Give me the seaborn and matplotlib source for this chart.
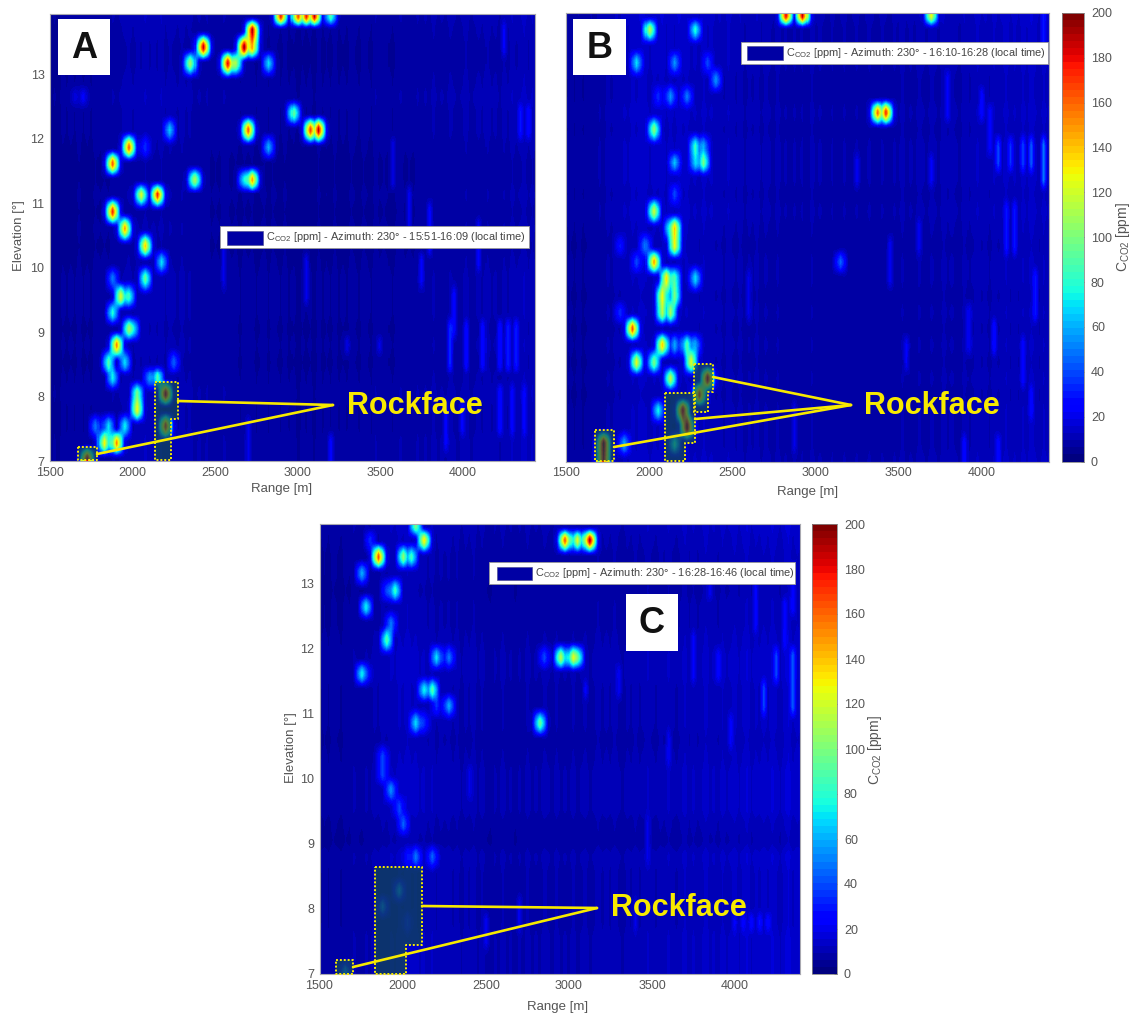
import numpy as np
import seaborn as sns
import matplotlib.pyplot as plt
from matplotlib.patches import Polygon, Rectangle

# ---------------------------------------------------------
# CONFIG
# ---------------------------------------------------------
W, H = 1136, 1019
TEXT_GREY = '#555555'
YELLOW = '#f7ea00'

# elevation scan rows [deg] and range gates [m]
elevation_rows = [7.02, 7.27, 7.53, 7.79, 8.03, 8.28, 8.53, 8.80, 9.05, 9.30,
                  9.55, 9.83, 10.08, 10.33, 10.60, 10.86, 11.13, 11.37, 11.62,
                  11.87, 12.14, 12.40, 12.65, 12.90, 13.17, 13.42, 13.68, 13.90]
range_gates = list(range(1500, 4500, 25))

# ---------------------------------------------------------
# DATA (range m, elevation deg, ppm)
# ---------------------------------------------------------
a_columns = [5, 6, 5, 7, 6, 7, 6, 8, 6, 7, 6, 8, 7, 8, 7, 9, 8, 9, 10, 11,
             9, 11, 10, 12, 10, 11, 10, 12, 9, 11, 10, 9, 11, 9, 10, 8, 9, 8, 9, 7,
             8, 7, 9, 8, 7, 8, 6, 8, 7, 8, 6, 7, 8, 6, 8, 7, 6, 8, 6, 7,
             5, 7, 6, 7, 5, 8, 6, 7, 6, 8, 6, 7, 6, 8, 7, 6, 8, 7, 6, 9,
             7, 8, 7, 6, 8, 9, 7, 8, 7, 9, 8, 9, 8, 10, 8, 9, 8, 10, 9, 8,
             9, 11, 8, 9, 10, 9, 11, 9, 10, 8, 11, 9, 12, 10, 11, 13, 10, 12, 9, 11]
a_rows = [1.1, 1.1, 1.0, 1.0, 1.1, 1.0, 0.9, 1.0, 0.9, 1.0, 1.0, 1.0, 0.9, 0.8,
          0.9, 0.8, 0.9, 0.8, 0.8, 0.9, 1.0, 1.0, 1.1, 1.0, 0.9, 0.9, 1.0, 1.1]
a_spot_range = [2423, 2362, 2581, 2665, 2636, 2719, 2719, 2816, 2890, 3004, 3040, 3100, 3198,
                2975, 2702, 3066, 3119, 2824, 2217, 1981, 1884, 2066, 2375, 2664, 2727,
                2042, 2140, 1866, 1944, 2078, 2072, 2169, 1884, 1933, 1975,
                1969, 2005, 1884, 1896, 1842, 1951, 1866, 2138, 2096, 2247, 2017, 2017,
                1842, 1946, 1830, 1908, 1780, 1727, 2205, 2205, 1700, 1650]
a_spot_elev = [13.42, 13.17, 13.17, 13.42, 13.17, 13.68, 13.42, 13.17, 13.90, 13.90, 13.90, 13.90, 13.90,
               12.40, 12.14, 12.14, 12.14, 11.87, 12.14, 11.87, 11.62, 11.87, 11.37, 11.37, 11.37,
               11.13, 11.13, 10.86, 10.60, 10.33, 9.83, 10.08, 9.83, 9.55, 9.55,
               9.05, 9.05, 9.30, 8.80, 8.53, 8.53, 8.28, 8.28, 8.28, 8.53, 7.79, 8.03,
               7.53, 7.53, 7.27, 7.27, 7.53, 7.02, 8.03, 7.53, 12.65, 12.65]
a_spot_ppm = [190, 110, 185, 200, 110, 195, 150, 70, 180, 170, 180, 190, 90,
              95, 165, 170, 190, 60, 65, 165, 165, 35, 110, 75, 150,
              125, 175, 175, 150, 140, 95, 70, 50, 125, 85,
              110, 80, 80, 155, 90, 70, 75, 90, 55, 45, 130, 100,
              70, 75, 130, 155, 50, 190, 190, 170, 24, 18]
a_streak_range = [3925, 4025, 4125, 4225, 4275, 4325, 4350, 4400, 4375, 4300, 4225, 3800, 3750, 4100,
                  4000, 3300, 3500, 3675, 3200, 3050, 3950, 4250, 3900, 3575, 2550, 2700]
a_streak_low = [8.5, 8.5, 8.5, 8.5, 8.5, 8.5, 11.9, 11.9, 7.4, 7.4, 7.4, 10.2, 9.8, 10.0,
                7.4, 8.6, 8.6, 10.6, 7.0, 9.5, 8.9, 13.2, 7.2, 11.3, 9.6, 7.0]
a_streak_high = [9.1, 9.1, 9.1, 9.1, 9.1, 9.1, 12.4, 12.4, 8.1, 8.1, 8.1, 10.9, 10.3, 10.6,
                 8.0, 9.0, 9.0, 11.2, 7.5, 10.1, 9.6, 13.8, 7.8, 11.9, 10.4, 7.7]
a_streak_ppm = [35, 28, 28, 30, 33, 32, 30, 28, 26, 26, 30, 26, 24, 24,
                26, 20, 20, 22, 26, 20, 26, 24, 24, 20, 20, 20]

b_columns = [6, 7, 6, 8, 6, 7, 8, 7, 9, 8, 10, 9, 11, 10, 12, 11, 13, 12, 14, 13,
             11, 13, 12, 14, 11, 13, 11, 14, 12, 13, 11, 12, 10, 13, 11, 12, 10, 11, 9, 12,
             10, 9, 11, 8, 10, 9, 11, 8, 10, 9, 8, 10, 8, 9, 7, 9, 8, 9, 7, 10,
             8, 9, 8, 7, 9, 7, 8, 9, 7, 8, 9, 7, 8, 9, 8, 7, 9, 8, 7, 9,
             8, 10, 8, 9, 8, 10, 9, 8, 10, 9, 8, 11, 9, 10, 9, 8, 11, 9, 10, 12,
             10, 11, 9, 12, 10, 11, 13, 10, 12, 10, 13, 11, 14, 12, 10, 13, 11, 15, 12, 10]
b_rows = [1.1, 1.0, 1.0, 1.0, 0.9, 1.0, 0.9, 1.0, 0.9, 1.0, 0.9, 1.0, 1.0, 0.9,
          1.0, 1.1, 1.0, 1.1, 1.1, 1.1, 1.0, 1.1, 1.0, 1.0, 1.1, 1.1, 1.1, 1.2]
b_spot_range = [1994, 2277, 2837, 2916, 3700, 1928, 2150, 2355, 2388, 2052, 2132, 2217,
                2030, 2265, 2325, 2325, 2265, 2145, 2150, 2024, 2145, 2115, 2145, 2024, 1964, 1825,
                1934, 2108, 2157, 2084, 2066, 2277, 3138, 1837, 1898, 2072, 2150, 2235, 2277,
                2247, 1934, 2036, 2115, 2048, 1850, 1723, 1723, 2199, 2229, 2145, 2343, 2307,
                3370, 3420, 2125, 2150]
b_spot_elev = [13.68, 13.68, 13.90, 13.90, 13.90, 13.17, 13.17, 13.17, 12.90, 12.65, 12.65, 12.65,
               12.14, 11.87, 11.62, 11.87, 11.62, 11.62, 11.13, 10.86, 10.60, 10.60, 10.33, 10.08, 10.33, 10.33,
               10.08, 9.83, 9.55, 9.55, 9.30, 9.83, 10.08, 9.30, 9.05, 8.80, 8.80, 8.80, 8.80,
               8.53, 8.53, 8.53, 8.28, 7.79, 7.27, 7.27, 7.02, 7.79, 7.53, 7.27, 8.28, 8.03,
               12.40, 12.40, 9.30, 9.83]
b_spot_ppm = [115, 80, 185, 190, 130, 70, 55, 40, 55, 35, 55, 50,
              105, 85, 100, 60, 70, 65, 40, 120, 140, 90, 130, 150, 50, 30,
              40, 135, 100, 130, 115, 70, 45, 35, 165, 140, 60, 90, 60,
              125, 125, 100, 115, 75, 60, 200, 190, 190, 200, 80, 190, 170,
              160, 175, 110, 90]
b_streak_range = [4100, 4175, 4250, 4300, 4375, 4200, 4150, 4325, 4075, 4250, 3900, 3700,
                  4000, 3250, 3450, 4100, 4300, 3550, 3800, 3625, 4375, 3925, 4050, 2600, 2875]
b_streak_low = [11.4, 11.4, 11.4, 11.4, 11.3, 10.3, 10.3, 9.3, 8.6, 8.2, 7.0, 11.2,
                12.2, 11.2, 9.8, 7.0, 7.6, 8.4, 12.3, 10.1, 13.4, 8.8, 11.8, 9.1, 7.2]
b_streak_high = [11.9, 11.9, 11.9, 12.0, 12.0, 10.9, 10.9, 9.9, 9.1, 8.8, 7.5, 11.8,
                 12.8, 11.7, 10.4, 7.4, 8.2, 9.0, 12.9, 10.6, 13.9, 9.5, 12.6, 9.9, 7.9]
b_streak_ppm = [40, 35, 40, 45, 50, 30, 30, 30, 30, 26, 28, 24,
                26, 22, 22, 28, 28, 22, 24, 22, 30, 22, 24, 20, 20]

c_columns = [6, 7, 6, 8, 7, 6, 8, 7, 9, 8, 7, 9, 8, 10, 9, 11, 10, 12, 11, 13,
             12, 14, 12, 13, 11, 12, 10, 12, 9, 11, 10, 11, 9, 11, 8, 10, 9, 11, 8, 10,
             8, 7, 9, 8, 10, 8, 9, 7, 9, 8, 10, 8, 9, 8, 10, 9, 8, 10, 8, 9,
             8, 10, 8, 9, 10, 8, 9, 11, 9, 10, 9, 11, 9, 8, 10, 9, 11, 9, 10, 12,
             10, 9, 11, 10, 12, 10, 9, 11, 13, 10, 12, 10, 11, 14, 11, 12, 10, 13, 11, 12,
             14, 11, 13, 15, 11, 13, 12, 14, 12, 15, 13, 11, 14, 16, 12, 14, 13, 12, 14, 12]
c_rows = [1.1, 1.1, 1.1, 1.0, 1.0, 1.0, 1.0, 1.1, 0.8, 0.9, 1.1, 1.1, 1.1, 1.0,
          0.9, 1.0, 1.0, 1.0, 1.1, 1.1, 1.0, 0.9, 0.9, 0.8, 0.9, 0.9, 1.0, 1.1]
c_spot_range = [1839, 1762, 2001, 2044, 2134, 2067, 1947, 1905, 1785, 1893, 1923, 1743, 1783,
                2206, 2266, 2134, 2181, 2284, 2212, 2087, 2127, 2836, 2845,
                2964, 3053, 3131, 2957, 3016, 3046, 1863, 1877, 1923, 1973, 2002, 2014, 2086, 2163,
                1973, 1880, 2032, 1653, 1800]
c_spot_elev = [13.42, 13.17, 13.42, 13.42, 13.68, 13.90, 12.90, 12.90, 12.65, 12.14, 12.40, 11.62, 11.62,
               11.87, 11.87, 11.37, 11.37, 11.13, 11.13, 10.86, 10.86, 10.86, 11.87,
               13.68, 13.68, 13.68, 11.87, 11.87, 11.87, 10.33, 10.08, 9.83, 9.55, 9.30, 8.80, 8.80, 8.80,
               8.28, 8.03, 7.79, 7.02, 13.68]
c_spot_ppm = [165, 60, 105, 85, 135, 100, 85, 40, 75, 90, 50, 75, 35,
              70, 50, 75, 90, 60, 35, 70, 35, 95, 40,
              165, 125, 195, 115, 125, 100, 40, 40, 55, 40, 45, 30, 50, 45,
              50, 45, 30, 50, 35]
c_streak_range = [4250, 4350, 4175, 4000, 4100, 4050, 4150, 4200, 4300, 3900, 3300, 3400, 3750,
                  2500, 2700, 2400, 4350, 3600, 3100, 3850, 3975, 4125, 3475]
c_streak_low = [11.5, 11.1, 10.9, 7.6, 7.6, 7.6, 7.6, 7.6, 12.0, 11.5, 11.2, 7.7, 11.6,
                7.3, 7.6, 9.6, 12.6, 10.2, 11.2, 12.8, 10.4, 12.2, 8.8]
c_streak_high = [12.1, 12.0, 11.5, 8.0, 8.0, 8.0, 8.0, 8.0, 12.7, 12.0, 11.7, 8.2, 12.3,
                 8.0, 8.2, 10.2, 13.4, 10.7, 11.6, 13.4, 11.0, 12.9, 9.4]
c_streak_ppm = [40, 45, 40, 24, 28, 26, 30, 28, 26, 26, 22, 20, 24,
                22, 22, 20, 26, 22, 24, 22, 24, 26, 20]

cbar_ticks = list(range(0, 201, 20))


# ---------------------------------------------------------
# HELPERS
# ---------------------------------------------------------
def build_grid(columns, row_gain, st_r, st_lo, st_hi, st_ppm, sp_r, sp_e, sp_ppm):
    rows = np.array(elevation_rows)
    gates = np.array(range_gates)
    grid = np.outer(row_gain, np.array(columns, dtype=float))
    for r, lo, hi, v in zip(st_r, st_lo, st_hi, st_ppm):
        c = np.abs(gates - r).argmin()
        mask = (rows >= lo) & (rows <= hi)
        grid[mask, c] = np.maximum(grid[mask, c], v)
    for r, e, v in zip(sp_r, sp_e, sp_ppm):
        c = np.abs(gates - r).argmin()
        i = np.abs(rows - e).argmin()
        # a return smears over the neighbouring range gates
        for off, share in [(-2, 0.12), (-1, 0.6), (0, 1.0), (1, 0.6), (2, 0.12)]:
            if 0 <= c + off < grid.shape[1]:
                grid[i, c + off] = max(grid[i, c + off], v * share)
    return grid


def ramp(q):
    # soft ramp between scan positions so the cells do not look like a staircase
    i = np.floor(q)
    f = q - i
    return i + f * f * (3 - 2 * f)


def resample(grid, xmax, ymax, nx=480, ny=450):
    fine_r = np.linspace(1500, xmax, nx)
    fine_e = np.linspace(7, ymax, ny)
    qx = np.interp(fine_r, range_gates, np.arange(len(range_gates)))
    qy = ramp(np.interp(fine_e, elevation_rows, np.arange(len(elevation_rows))))
    tmp = np.array([np.interp(qx, np.arange(grid.shape[1]), row) for row in grid])
    out = np.array([np.interp(qy, np.arange(tmp.shape[0]), tmp[:, j]) for j in range(tmp.shape[1])]).T
    return out


def px_axes(fig, left, top, right, bottom):
    return fig.add_axes([left / W, 1 - bottom / H, (right - left) / W, (bottom - top) / H])


def draw_panel(fig, box, grid, xmax, ymax, cbar_box=None, show_y=True):
    ax = px_axes(fig, *box)
    data = resample(grid, xmax, ymax)
    cbar_ax = px_axes(fig, *cbar_box) if cbar_box else None
    sns.heatmap(data, ax=ax, cmap=plt.get_cmap('jet', 64), vmin=0, vmax=200,
                xticklabels=False, yticklabels=False,
                cbar=cbar_box is not None, cbar_ax=cbar_ax)
    ny, nx = data.shape
    ax.set_ylim(0, ny)
    ax.set_xlim(0, nx)
    xt = [1500, 2000, 2500, 3000, 3500, 4000]
    ax.set_xticks([(v - 1500) / (xmax - 1500) * nx for v in xt])
    ax.set_xticklabels([str(v) for v in xt])
    if show_y:
        yt = [7, 8, 9, 10, 11, 12, 13]
        ax.set_yticks([(v - 7) / (ymax - 7) * ny for v in yt])
        ax.set_yticklabels([str(v) for v in yt], rotation=0)
    ax.tick_params(length=0, labelsize=9, labelcolor=TEXT_GREY, pad=4)
    for s in ax.spines.values():
        s.set_visible(True)
        s.set_color('#a8a8b0')
        s.set_linewidth(0.8)
    if cbar_box:
        cb = ax.collections[0].colorbar
        cb.set_ticks(cbar_ticks)
        cb.ax.tick_params(direction='in', length=2.5, width=0.6, color='#444444',
                          labelsize=9, labelcolor=TEXT_GREY, pad=5)
        cb.outline.set_linewidth(0.6)
        cb.outline.set_edgecolor('#888888')
    return ax


def tag(over, x0, y0, x1, y1, letter):
    over.add_patch(Rectangle((x0, y0), x1 - x0, y1 - y0, fc='white', ec='none'))
    over.text((x0 + x1) / 2, (y0 + y1) / 2 + 1, letter, ha='center', va='center',
              fontsize=26, fontweight='bold', color='#111111')


def legend_box(over, box, swatch, label):
    x0, y0, x1, y1 = box
    over.add_patch(Rectangle((x0, y0), x1 - x0, y1 - y0, fc='white', ec='#999999', lw=0.6))
    sx0, sy0, sx1, sy1 = swatch
    over.add_patch(Rectangle((sx0, sy0), sx1 - sx0, sy1 - sy0, fc='#0000a4', ec='#444488', lw=0.4))
    over.text(sx1 + 3, (y0 + y1) / 2, label, ha='left', va='center', fontsize=7.9, color='#444444')


def rock_box(over, pts):
    over.add_patch(Polygon(pts, closed=True, fc='#124a50', ec='none', alpha=0.7))
    xs = [p[0] for p in pts] + [pts[0][0]]
    ys = [p[1] for p in pts] + [pts[0][1]]
    over.plot(xs, ys, color=YELLOW, lw=1.4, ls=(0, (1, 1)))


def rock_lines(over, tip, starts, text_x):
    for sx, sy in starts:
        over.plot([sx, tip[0]], [sy, tip[1]], color=YELLOW, lw=1.9, solid_capstyle='round')
    over.text(text_x, tip[1] + 0.5, 'Rockface', ha='left', va='center', fontsize=22,
              fontweight='bold', color=YELLOW)


# ---------------------------------------------------------
# FIGURE
# ---------------------------------------------------------
sns.set_theme(style='white')
plt.rcParams['font.family'] = ['Liberation Sans', 'DejaVu Sans']
plt.rcParams['mathtext.default'] = 'regular'

fig = plt.figure(figsize=(W / 100, H / 100), dpi=100, facecolor='white')

grid_a = build_grid(a_columns, a_rows, a_streak_range, a_streak_low, a_streak_high, a_streak_ppm,
                    a_spot_range, a_spot_elev, a_spot_ppm)
grid_b = build_grid(b_columns, b_rows, b_streak_range, b_streak_low, b_streak_high, b_streak_ppm,
                    b_spot_range, b_spot_elev, b_spot_ppm)
grid_c = build_grid(c_columns, c_rows, c_streak_range, c_streak_low, c_streak_high, c_streak_ppm,
                    c_spot_range, c_spot_elev, c_spot_ppm)

draw_panel(fig, (50, 13.5, 535, 461), grid_a, 4437, 13.94)
draw_panel(fig, (566, 13, 1049, 461.5), grid_b, 4405, 13.93, cbar_box=(1062, 13, 1084, 461.5), show_y=False)
draw_panel(fig, (319.5, 524, 800, 974), grid_c, 4390, 13.92, cbar_box=(812, 524, 837, 974))

# annotation layer in picture pixels
over = fig.add_axes([0, 0, 1, 1], zorder=10)
over.set_xlim(0, W)
over.set_ylim(H, 0)
over.axis('off')

rock_box(over, [(78, 447), (97, 447), (97, 460), (78, 460)])
rock_box(over, [(155, 382), (178, 382), (178, 419), (171, 419), (171, 460), (155, 460)])
rock_lines(over, (333, 405), [(178, 401), (97, 454)], 347)

rock_box(over, [(595, 430), (614, 430), (614, 461), (595, 461)])
rock_box(over, [(665, 393), (695, 393), (695, 443), (685, 443), (685, 461), (665, 461)])
rock_box(over, [(694, 364), (713, 364), (713, 392), (708, 392), (708, 412), (694, 412)])
rock_lines(over, (851, 405), [(713, 377), (695, 419), (614, 447)], 864)

rock_box(over, [(336, 960), (353, 960), (353, 974), (336, 974)])
rock_box(over, [(375, 867), (422, 867), (422, 945), (406, 945), (406, 974), (375, 974)])
rock_lines(over, (597, 908), [(422, 906), (353, 967)], 611)

tag(over, 58, 19, 110, 75, 'A')
tag(over, 573, 19, 626, 75, 'B')
tag(over, 626, 594, 678, 651, 'C')

legend_box(over, (220, 226, 529, 248), (227, 231, 263, 245),
           'C$_{CO2}$ [ppm] - Azimuth: 230° - 15:51-16:09 (local time)')
legend_box(over, (741, 42, 1048, 64), (747, 46, 783, 60),
           'C$_{CO2}$ [ppm] - Azimuth: 230° - 16:10-16:28 (local time)')
legend_box(over, (489, 562, 795, 584), (497, 567, 532, 580),
           'C$_{CO2}$ [ppm] - Azimuth: 230° - 16:28-16:46 (local time)')

for x, y in [(282, 489), (808, 492), (558, 1007)]:
    over.text(x, y, 'Range [m]', ha='center', va='center', fontsize=9.5, color=TEXT_GREY)
for x, y in [(19, 236), (291, 748)]:
    over.text(x, y, 'Elevation [°]', ha='center', va='center', rotation=90, fontsize=9.5, color=TEXT_GREY)
for x, y in [(1123, 237), (875, 750)]:
    over.text(x, y, 'C$_{CO2}$ [ppm]', ha='center', va='center', rotation=90, fontsize=10, color=TEXT_GREY)

fig.savefig('out.png', dpi=100)
plt.close(fig)
